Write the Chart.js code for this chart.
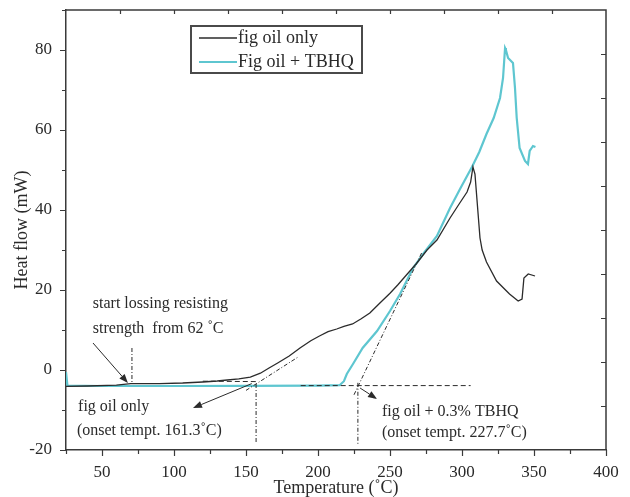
<!DOCTYPE html>
<html>
<head>
<meta charset="utf-8">
<script src="https://cdn.jsdelivr.net/npm/chart.js@4.4.0/dist/chart.umd.min.js"></script>
<style>
  html, body { margin: 0; padding: 0; background: #fff; }
  #wrap { width: 630px; height: 497px; }
</style>
</head>
<body>
<div id="wrap"><canvas id="dsc" width="630" height="497"></canvas></div>
<script>
// DSC heating curves: temperature (°C) vs heat flow (mW)
const seriesNames = ['fig oil only', 'Fig oil + TBHQ'];

const figOilTemp = [25, 40, 60, 70, 90, 106, 120, 130, 137, 145, 153, 160, 166, 172, 180, 187.5, 195, 201, 207, 213, 218, 224, 230, 236, 243, 250, 255.5, 262, 268.7, 275.7, 282.6, 291.7, 298, 303.5, 306, 307.6, 309, 312.5, 314, 317, 324, 333, 339, 341.7, 343, 346, 350.7];
const figOilFlow = [-4.1, -4.0, -3.8, -3.4, -3.4, -3.25, -3.0, -2.75, -2.5, -2.2, -1.8, -0.8, 0.5, 1.75, 3.5, 5.5, 7.3, 8.5, 9.6, 10.25, 10.9, 11.5, 12.8, 14.25, 16.75, 19.2, 21.3, 24, 26.75, 30.0, 32.5, 38, 41.5, 44.5, 47, 50.75, 49, 33, 30, 27, 22.25, 19, 17.25, 17.75, 23, 24, 23.5];

const tbhqTemp = [25, 26, 50, 100, 150, 200, 215, 218, 220, 224.3, 231, 241, 250, 257, 266, 273, 282.6, 291.7, 299, 307, 312, 317, 322, 326.4, 328.5, 329.9, 330.5, 332, 335.4, 336.8, 338, 340, 343.75, 345.8, 347, 349.3, 351];
const tbhqFlow = [-0.5, -3.9, -4.0, -4.0, -3.95, -3.9, -3.8, -2.8, -1.0, 1.5, 5.5, 9.75, 14.75, 19, 25.5, 29, 33.5, 40.5, 45.5, 50.8, 54.5, 59, 63, 68, 73, 80.5, 80, 78, 76.75, 70.5, 63, 55.5, 52.25, 51.5, 54.75, 56, 55.75];

const xTickLabels = [50, 100, 150, 200, 250, 300, 350, 400];
const yTickLabels = [-20, 0, 20, 40, 60, 80];

// construction lines used to read the onset temperatures: [T1, Q1, T2, Q2]
const dashGuides = [
  [70.8, 5.5, 70.8, -3.3],
  [157, -3.5, 157, -18.5],
  [227.7, -3.2, 227.7, -18.5],
  [225, -6.2, 272, 29.3],
  [150, -5.1, 186, 3.2]
];
const dottedGuides = [
  [188, -3.9, 306, -3.9],
  [120, -2.8, 157, -2.9]
];
// arrows from a note to its point: [T_from, Q_from, T_to, Q_to]
const arrows = [
  [43.75, 6.75, 68, -3.25],
  [154, -3.4, 113.2, -9.5],
  [229.2, -4.5, 241, -7.25]
];
// notes anchored at [T, Q] (left edge, vertical middle)
const noteText = [
  'start lossing resisting',
  'strength  from 62 \u02DAC',
  'fig oil only',
  '(onset tempt. 161.3\u02DAC)',
  'fig oil + 0.3% TBHQ',
  '(onset tempt. 227.7\u02DAC)'
];
const noteAt = [
  [43.6, 16.6],
  [43.6, 10.3],
  [33.4, -9.3],
  [32.6, -15.3],
  [244.4, -10.4],
  [244.4, -15.8]
];

const ink = '#2b2b2b';
const cyan = '#5ec6d0';
const serif = 'Liberation Serif, Times New Roman, serif';

const toPoints = (xs, ys) => xs.map((t, i) => ({ x: t, y: ys[i] }));

const frame = {
  id: 'frame',
  afterDraw(chart) {
    const { ctx, chartArea: a, scales: { x, y } } = chart;
    const divisions = 10;
    ctx.save();
    ctx.strokeStyle = '#3a3a3a';
    ctx.lineWidth = 1.5;
    ctx.beginPath();
    ctx.moveTo(a.left, a.top);
    ctx.lineTo(a.right, a.top);
    ctx.lineTo(a.right, a.bottom);
    ctx.stroke();
    ctx.lineWidth = 1.2;
    ctx.beginPath();
    x.ticks.forEach(t => {
      const px = Math.round(x.getPixelForValue(t.value)) + 0.5;
      const len = xTickLabels.includes(t.value) ? 6 : 4;
      ctx.moveTo(px, a.bottom);
      ctx.lineTo(px, a.bottom + len);
    });
    y.ticks.forEach(t => {
      const py = Math.round(y.getPixelForValue(t.value)) + 0.5;
      const len = yTickLabels.includes(t.value) ? 6 : 4;
      ctx.moveTo(a.left, py);
      ctx.lineTo(a.left - len, py);
    });
    for (let i = 1; i < divisions; i++) {
      const px = Math.round(a.left + (a.right - a.left) * i / divisions) + 0.5;
      ctx.moveTo(px, a.top);
      ctx.lineTo(px, a.top + 4);
      const py = Math.round(a.top + (a.bottom - a.top) * i / divisions) + 0.5;
      ctx.moveTo(a.right, py);
      ctx.lineTo(a.right - 5, py);
    }
    ctx.stroke();
    ctx.restore();
  }
};

const notes = {
  id: 'notes',
  afterDatasetsDraw(chart) {
    const { ctx, scales: { x, y } } = chart;
    const P = (t, q) => [x.getPixelForValue(t), y.getPixelForValue(q)];
    ctx.save();
    ctx.strokeStyle = ink;
    ctx.fillStyle = ink;
    ctx.lineWidth = 1;
    ctx.setLineDash([4, 2, 1, 2]);
    dashGuides.forEach(g => {
      const [x1, y1] = P(g[0], g[1]);
      const [x2, y2] = P(g[2], g[3]);
      ctx.beginPath(); ctx.moveTo(x1, y1); ctx.lineTo(x2, y2); ctx.stroke();
    });
    ctx.setLineDash([5, 3]);
    dottedGuides.forEach(g => {
      const [x1, y1] = P(g[0], g[1]);
      const [x2, y2] = P(g[2], g[3]);
      ctx.beginPath(); ctx.moveTo(x1, y1); ctx.lineTo(x2, y2); ctx.stroke();
    });
    ctx.setLineDash([]);
    arrows.forEach(a => {
      const [x1, y1] = P(a[0], a[1]);
      const [x2, y2] = P(a[2], a[3]);
      const ang = Math.atan2(y2 - y1, x2 - x1);
      const head = 9, half = 3.5;
      const bx = x2 - head * Math.cos(ang), by = y2 - head * Math.sin(ang);
      ctx.beginPath(); ctx.moveTo(x1, y1); ctx.lineTo(bx, by); ctx.stroke();
      ctx.beginPath();
      ctx.moveTo(x2, y2);
      ctx.lineTo(bx + half * Math.sin(ang), by - half * Math.cos(ang));
      ctx.lineTo(bx - half * Math.sin(ang), by + half * Math.cos(ang));
      ctx.closePath();
      ctx.fill();
    });
    ctx.font = '16px ' + serif;
    ctx.textAlign = 'left';
    ctx.textBaseline = 'middle';
    ctx.fillStyle = '#2a2a2a';
    noteText.forEach((s, i) => {
      const [px, py] = P(noteAt[i][0], noteAt[i][1]);
      ctx.fillText(s, px, py);
    });
    ctx.restore();
  }
};

const boxLegend = {
  id: 'boxLegend',
  afterDraw(chart) {
    const { ctx, chartArea: a } = chart;
    const left = a.left + 125, top = a.top + 16, w = 171, h = 47;
    ctx.save();
    ctx.strokeStyle = '#4a4a4a';
    ctx.lineWidth = 2;
    ctx.strokeRect(left, top, w, h);
    ctx.font = '18px ' + serif;
    ctx.textBaseline = 'middle';
    ctx.textAlign = 'left';
    chart.data.datasets.forEach((ds, i) => {
      const cy = top + 12 + i * 24;
      ctx.strokeStyle = ds.borderColor;
      ctx.lineWidth = ds.borderWidth;
      ctx.beginPath();
      ctx.moveTo(left + 8, cy);
      ctx.lineTo(left + 46, cy);
      ctx.stroke();
      ctx.fillStyle = '#2a2a2a';
      ctx.fillText(ds.label, left + 47, cy);
    });
    ctx.restore();
  }
};

new Chart(document.getElementById('dsc'), {
  type: 'line',
  data: {
    datasets: [
      { label: seriesNames[0], data: toPoints(figOilTemp, figOilFlow), borderColor: ink, borderWidth: 1.3, pointRadius: 0, tension: 0, fill: false },
      { label: seriesNames[1], data: toPoints(tbhqTemp, tbhqFlow), borderColor: cyan, borderWidth: 2.2, pointRadius: 0, tension: 0, fill: false }
    ]
  },
  options: {
    responsive: false,
    animation: false,
    devicePixelRatio: 1,
    layout: { padding: { top: 10, right: 24, left: 0, bottom: 0 } },
    plugins: { legend: { display: false }, tooltip: { enabled: false } },
    scales: {
      x: {
        type: 'linear', min: 25, max: 400,
        afterFit(s) { s.height = 47; s.paddingLeft = 0; s.paddingRight = 0; },
        border: { display: true, color: '#3a3a3a', width: 1.5 },
        grid: { display: false, drawTicks: false },
        ticks: {
          stepSize: 25, includeBounds: false, autoSkip: false, maxRotation: 0, padding: 12,
          color: '#2a2a2a', font: { family: serif, size: 17 },
          callback: v => xTickLabels.includes(v) ? String(v) : ''
        },
        title: { display: true, text: 'Temperature (\u02DAC)', color: '#2a2a2a', font: { family: serif, size: 18, lineHeight: 1 }, padding: { top: 0, bottom: 0 } }
      },
      y: {
        type: 'linear', min: -20, max: 90,
        afterFit(s) { s.width = 66; s.paddingTop = 0; s.paddingBottom = 0; },
        border: { display: true, color: '#3a3a3a', width: 1.5 },
        grid: { display: false, drawTicks: false },
        ticks: {
          stepSize: 10, includeBounds: false, autoSkip: false, padding: 14,
          color: '#2a2a2a', font: { family: serif, size: 17 },
          callback: v => yTickLabels.includes(v) ? String(v) : ''
        },
        title: { display: true, text: 'Heat flow (mW)', color: '#2a2a2a', font: { family: serif, size: 18, lineHeight: 1 }, padding: { top: 13, bottom: 0 } }
      }
    }
  },
  plugins: [frame, notes, boxLegend]
});
</script>
</body>
</html>
